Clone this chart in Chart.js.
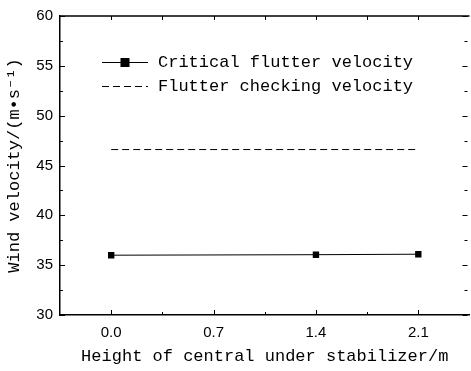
<!DOCTYPE html>
<html><head><meta charset="utf-8">
<script src="https://cdn.jsdelivr.net/npm/chart.js@4/dist/chart.umd.min.js"></script>
<style>html,body{margin:0;padding:0;background:#fff;overflow:hidden;}#wrap{width:474px;height:371px;}</style>
</head><body><div id="wrap"><canvas id="c" width="474" height="371"></canvas></div>
<script>
const heightCategories = [0.0, 0.7, 1.4, 2.1];
const criticalX = [0.0, 1.4, 2.1];
const criticalVelocity = [36.0, 36.05, 36.1];
const checkingX = [0.0, 2.1];
const checkingVelocity = [46.6, 46.6];
const yTicks = [30, 35, 40, 45, 50, 55, 60];
const seriesLabels = ['Critical flutter velocity', 'Flutter checking velocity'];
const xTitle = 'Height of central under stabilizer/m';
const yTitle = 'Wind velocity/(m\u2022s\u207B\u00B9)';

const MONO = '"Liberation Mono", "DejaVu Sans Mono", monospace';
const SANS = '"Liberation Sans", Arial, sans-serif';

const framePlugin = {
  id: 'frame',
  afterDraw(chart) {
    const ctx = chart.ctx;
    const a = chart.chartArea;
    const xs = chart.scales.x, ys = chart.scales.y;
    ctx.save();
    ctx.strokeStyle = '#000';
    ctx.lineWidth = 1.5;
    ctx.beginPath();
    ctx.moveTo(a.left, a.top); ctx.lineTo(a.right, a.top);
    ctx.stroke();
    ctx.lineWidth = 1;
    ctx.beginPath();
    for (let v = ys.min; v <= ys.max + 1e-9; v += 2.5) {
      const y = Math.round(ys.getPixelForValue(v)) + 0.5;
      const major = Math.abs(v % 5) < 1e-9;
      const len = major ? 5 : 3;
      ctx.moveTo(a.left, y); ctx.lineTo(a.left + len, y);
      ctx.moveTo(a.right - 2, y); ctx.lineTo(a.right - 2 - len, y);
    }
    for (let i = 0; i < heightCategories.length * 2 + 1; i++) {
      const v = xs.min + 0.35 * i;
      if (v > xs.max - 1e-9 || v < xs.min + 1e-9) continue;
      const x = Math.round(xs.getPixelForValue(v)) + 0.5;
      const major = heightCategories.some(c => Math.abs(c - v) < 1e-6);
      const len = major ? 5 : 3;
      ctx.moveTo(x, a.bottom); ctx.lineTo(x, a.bottom - len);
      ctx.moveTo(x, a.top); ctx.lineTo(x, a.top + 4);
    }
    ctx.stroke();

    // legend
    const ds = chart.data.datasets;
    const lx0 = a.left + 42, lx1 = a.left + 88, tx = a.left + 98;
    const rows = [a.top + 46, a.top + 70];
    ctx.font = '17px ' + MONO;
    ctx.fillStyle = '#000';
    ctx.textBaseline = 'middle';
    ds.forEach((d, i) => {
      const y = rows[i];
      ctx.strokeStyle = d.borderColor;
      ctx.lineWidth = d.borderWidth;
      ctx.setLineDash(d.borderDash || []);
      ctx.beginPath(); ctx.moveTo(lx0, y + 0.5); ctx.lineTo(lx1, y + 0.5); ctx.stroke();
      ctx.setLineDash([]);
      if (d.pointRadius > 0) {
        const r = d.pointRadius;
        ctx.fillStyle = d.pointBackgroundColor;
        ctx.fillRect((lx0 + lx1) / 2 - r, y + 0.5 - r, 2 * r, 2 * r);
      }
      ctx.fillStyle = '#000';
      ctx.fillText(d.label, tx, y);
    });
    ctx.restore();
  }
};

new Chart(document.getElementById('c'), {
  type: 'line',
  data: {
    datasets: [
      {
        label: seriesLabels[0],
        data: criticalX.map((x, i) => ({ x, y: criticalVelocity[i] })),
        borderColor: '#000', borderWidth: 1,
        pointStyle: 'rect', pointRadius: 4.5,
        pointBackgroundColor: '#000', pointBorderColor: '#000', pointBorderWidth: 0,
        tension: 0
      },
      {
        label: seriesLabels[1],
        data: checkingX.map((x, i) => ({ x, y: checkingVelocity[i] })),
        borderColor: '#000', borderWidth: 1, borderDash: [7, 4],
        pointRadius: 0, pointBackgroundColor: '#000',
        tension: 0
      }
    ]
  },
  options: {
    responsive: false,
    animation: false,
    devicePixelRatio: 1,
    layout: { padding: { top: 14, right: 0, left: 0, bottom: 0 } },
    plugins: { legend: { display: false }, tooltip: { enabled: false } },
    scales: {
      x: {
        type: 'linear', min: -0.35, max: 2.45,
        afterBuildTicks: s => { s.ticks = heightCategories.map(v => ({ value: v })); },
        afterFit: s => { s.height = 56; },
        ticks: { callback: v => Number(v).toFixed(1), font: { family: SANS, size: 15 }, color: '#000', padding: 9, maxRotation: 0, autoSkip: false },
        grid: { display: false, drawTicks: false },
        border: { display: true, color: '#000', width: 1.5 },
        title: { display: true, text: xTitle, color: '#000', font: { family: MONO, size: 17 }, padding: { top: 4, bottom: 4 } }
      },
      y: {
        min: 30, max: 60,
        afterBuildTicks: s => { s.ticks = yTicks.map(v => ({ value: v })); },
        afterFit: s => { s.width = 60; },
        ticks: { font: { family: SANS, size: 15 }, color: '#000', padding: 7 },
        grid: { display: false, drawTicks: false },
        border: { display: true, color: '#000', width: 1.5 },
        title: { display: true, text: yTitle, color: '#000', font: { family: MONO, size: 17 }, padding: { top: 4, bottom: 4 } }
      }
    }
  },
  plugins: [framePlugin]
});
</script>
</body></html>
